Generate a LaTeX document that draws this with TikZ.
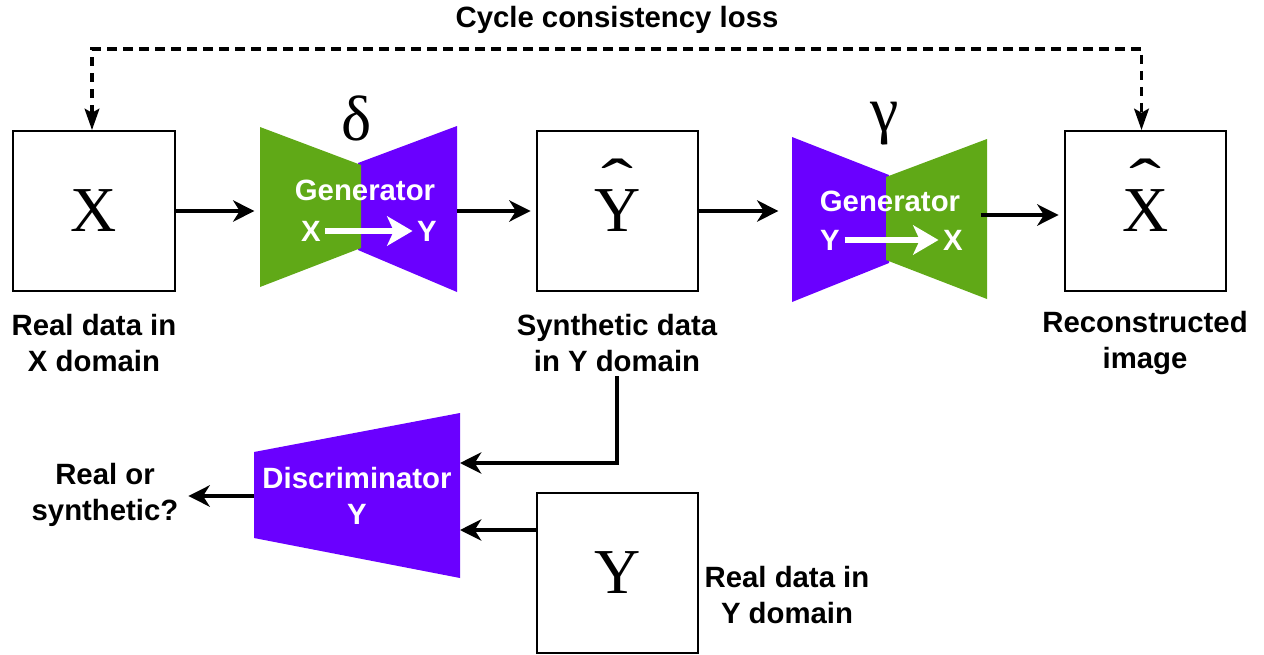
\documentclass[tikz,border=0pt]{standalone}
\usepackage{fontspec}
\setmainfont{Liberation Sans}
\newfontfamily\bigserif{Liberation Serif}
\usetikzlibrary{arrows.meta}

\definecolor{gangreen}{RGB}{96,169,23}
\definecolor{ganviolet}{RGB}{106,0,255}

\tikzset{
  databox/.style={draw, line width=1.4pt, minimum width=121pt, minimum height=120pt, inner sep=0pt,
    font=\bigserif\fontsize{48}{48}\selectfont},
  caption/.style={align=center, font=\bfseries\fontsize{22}{26.5}\selectfont},
  wcaption/.style={caption, text=white},
  greek/.style={font=\bigserif\fontsize{48}{48}\selectfont},
  flow/.style={line width=2.6pt, -{Stealth[length=16pt, width=16pt, inset=5pt]}, shorten >=4pt},
  wflow/.style={white, line width=4pt, -{Stealth[length=19pt, width=22pt, inset=5pt]}},
  cycflow/.style={line width=2.6pt, dash pattern=on 7pt off 5pt,
    {Stealth[length=16pt, width=11pt, inset=3pt]}-{Stealth[length=16pt, width=11pt, inset=3pt]}},
  extent/.style={inner sep=0pt, minimum height=10pt}
}

\newcommand{\hatover}[1]{\ooalign{#1\cr\hidewidth\smash{\raisebox{0.45em}{\scalebox{1.5}[1]{ˆ}}}\hidewidth\cr}}

\begin{document}
\begin{tikzpicture}[x=0.75pt,y=0.75pt,yscale=-1,xscale=1]
\useasboundingbox (0,0) rectangle (1264,654);

%Shape: data boxes
\node (xbox) [databox] at (94,211) {X};
\node (yhat) [databox] at (617.5,211) {\hatover{Y}};
\node (xhat) [databox] at (1145.5,211) {\hatover{X}};
\node (yreal) [databox] at (617.5,573) {Y};

% Text Node
\node (realx) [caption] at (94,343) {Real data in\\X domain};
\node (synth) [caption] at (617,343) {Synthetic data\\in Y domain};
\node (recon) [caption] at (1145,343) {Reconstructed\\image};
\node (realy) [caption] at (787,595) {Real data in\\Y domain};
\node (rors) [caption] at (105,495) {Real or\\synthetic?};
\node (cycloss) [caption] at (617,20) {Cycle consistency loss};

%Shape: generator X -> Y
\fill [ganviolet] (358,163) -- (457,126) -- (457,292) -- (358,250) -- cycle;
\fill [gangreen] (260,127) -- (361,165) -- (361,248) -- (260,287) -- cycle;
\node (genxy) [extent, minimum width=147.75pt] at (358.5,211) {};
\node (delta) [greek] at (357,118) {δ};
\node (gtxt1) [wcaption] at (365,190) {Generator};
\node (gx1) [wcaption] at (311,231) {X};
\node (gy1) [wcaption] at (427,231) {Y};
\draw [wflow] (gx1) -- (gy1);

%Shape: generator Y -> X
\fill [ganviolet] (792,137) -- (889,175) -- (889,263) -- (792,302) -- cycle;
\fill [gangreen] (886,177) -- (987,139) -- (987,299) -- (886,260) -- cycle;
\node (genyx) [extent, minimum width=146.25pt] at (889.5,211) {};
\node (gamma) [greek] at (885,124) {γ};
\node (gtxt2) [wcaption] at (890,201) {Generator};
\node (gy2) [wcaption] at (830,240) {Y};
\node (gx2) [wcaption] at (953,240) {X};
\draw [wflow] (gy2) -- (gx2);

%Shape: discriminator
\fill [ganviolet] (254,452) -- (460,413) -- (460,578) -- (254,538) -- cycle;
\node (disc) [wcaption, minimum width=154.5pt, inner sep=0pt] at (357,496) {Discriminator\\Y};
\coordinate (discin1) at (460,463);
\coordinate (discin2) at (460,530);

%Straight Lines
\draw [flow] (xbox.east) -- (genxy.west);
\draw [flow] (genxy.east) -- (yhat.west);
\draw [flow, shorten >=10pt] (yhat.east) -- (genyx.west);
\draw [flow] ([xshift=-5pt,yshift=3pt]genyx.east) -- ([yshift=3pt]xhat.west);
\draw [flow, shorten >=0pt] (synth.south) |- (discin1);
\draw [flow, shorten >=0pt] (yreal.west |- discin2) -- (discin2);
\draw [flow] (disc.west) -- (disc.west -| rors.east);
\draw [cycflow] ([xshift=-1.5pt]xbox.north) -- ++(0,-81) -| ([xshift=-3pt]xhat.north);
\end{tikzpicture}
\end{document}
